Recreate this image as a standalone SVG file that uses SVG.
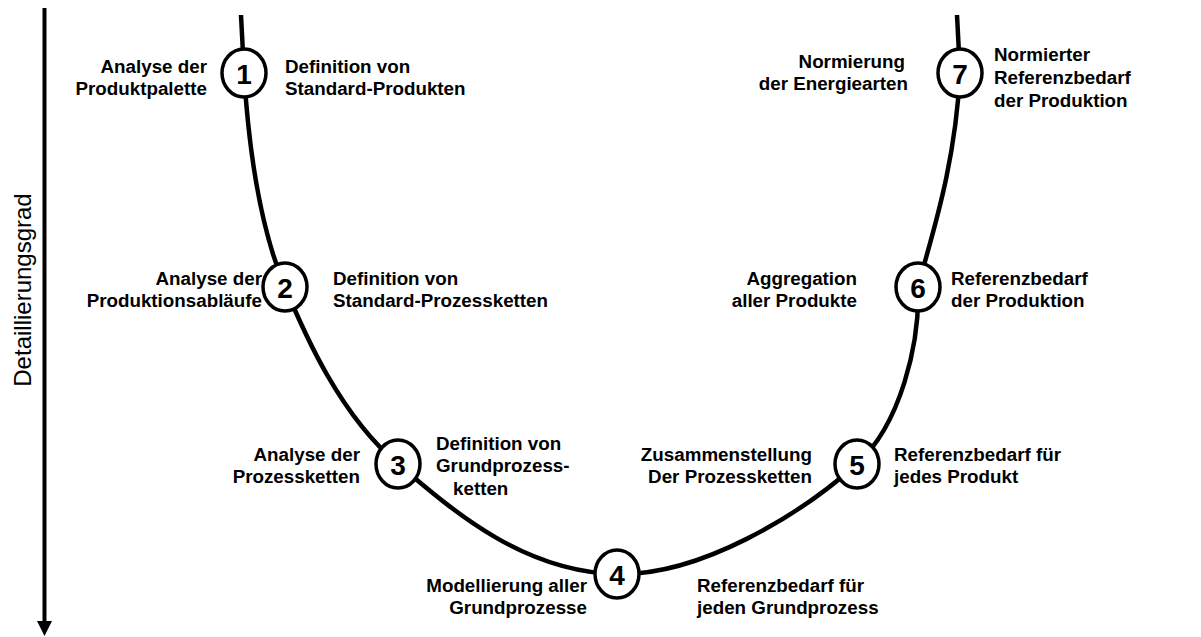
<svg xmlns="http://www.w3.org/2000/svg" width="1201" height="637" viewBox="0 0 1201 637">
  <style>
    .lbl { font-family: "Liberation Sans", Arial, sans-serif; font-weight: bold; font-size: 18.8px; fill: #000; }
    .r { text-anchor: end; }
    .num { font-family: "Liberation Sans", Arial, sans-serif; font-weight: bold; font-size: 28px; text-anchor: middle; dominant-baseline: central; fill: #000; }
    .node ellipse { fill: #fff; stroke: #000; stroke-width: 3.5; }
    .curve { fill: none; stroke: #000; stroke-width: 4.5; }
    .axis-label { font-family: "Liberation Sans", Arial, sans-serif; font-size: 24px; fill: #000; }
  </style>
  <rect width="1201" height="637" fill="#fff"/>

  <!-- vertical axis: level of detail -->
  <g id="axis">
    <line x1="44.5" y1="8" x2="44.5" y2="622" stroke="#000" stroke-width="4"/>
    <polygon points="37,621 52,621 44.5,636" fill="#000"/>
    <text class="axis-label" transform="translate(31,290) rotate(-90)" text-anchor="middle">Detaillierungsgrad</text>
  </g>

  <!-- U-shaped connector through all steps -->
  <g id="connectors">
    <path class="curve" d="M241,15 L244,73 C250,170 265,240 285,287 C305,335 340,415 398,464 C448,506 520,572 617,574 C700,576 800,515 857,464 C900,425 920,345 918,287 C930,240 955,170 960,73 L957,15"/>
  </g>

  <g id="step1" class="node">
    <ellipse cx="244" cy="73" rx="22" ry="24"/>
    <text class="num" x="244" y="74">1</text>
    <text class="lbl r" x="207" y="73">Analyse der</text>
    <text class="lbl r" x="207" y="95">Produktpalette</text>
    <text class="lbl" x="285" y="73">Definition von</text>
    <text class="lbl" x="285" y="95">Standard-Produkten</text>
  </g>

  <g id="step2" class="node">
    <ellipse cx="285" cy="287" rx="22" ry="24"/>
    <text class="num" x="285" y="288">2</text>
    <text class="lbl r" x="262" y="285">Analyse der</text>
    <text class="lbl r" x="262" y="307">Produktionsabläufe</text>
    <text class="lbl" x="333" y="285">Definition von</text>
    <text class="lbl" x="333" y="307">Standard-Prozessketten</text>
  </g>

  <g id="step3" class="node">
    <ellipse cx="398" cy="464" rx="22" ry="24"/>
    <text class="num" x="398" y="465">3</text>
    <text class="lbl r" x="360" y="461">Analyse der</text>
    <text class="lbl r" x="360" y="483">Prozessketten</text>
    <text class="lbl" x="436" y="450">Definition von</text>
    <text class="lbl" x="436" y="472">Grundprozess-</text>
    <text class="lbl" x="453" y="495">ketten</text>
  </g>

  <g id="step4" class="node">
    <ellipse cx="617" cy="574" rx="22" ry="24"/>
    <text class="num" x="617" y="575">4</text>
    <text class="lbl r" x="587" y="592">Modellierung aller</text>
    <text class="lbl r" x="587" y="614">Grundprozesse</text>
    <text class="lbl" x="697" y="592">Referenzbedarf für</text>
    <text class="lbl" x="697" y="614">jeden Grundprozess</text>
  </g>

  <g id="step5" class="node">
    <ellipse cx="857" cy="464" rx="22" ry="24"/>
    <text class="num" x="857" y="465">5</text>
    <text class="lbl r" x="812" y="461">Zusammenstellung</text>
    <text class="lbl r" x="812" y="483">Der Prozessketten</text>
    <text class="lbl" x="894" y="461">Referenzbedarf für</text>
    <text class="lbl" x="894" y="483">jedes Produkt</text>
  </g>

  <g id="step6" class="node">
    <ellipse cx="918" cy="287" rx="22" ry="24"/>
    <text class="num" x="918" y="288">6</text>
    <text class="lbl r" x="857" y="285">Aggregation</text>
    <text class="lbl r" x="857" y="307">aller Produkte</text>
    <text class="lbl" x="951" y="285">Referenzbedarf</text>
    <text class="lbl" x="951" y="307">der Produktion</text>
  </g>

  <g id="step7" class="node">
    <ellipse cx="960" cy="73" rx="22" ry="24"/>
    <text class="num" x="960" y="74">7</text>
    <text class="lbl r" x="905" y="68">Normierung</text>
    <text class="lbl r" x="908" y="90">der Energiearten</text>
    <text class="lbl" x="994" y="61">Normierter</text>
    <text class="lbl" x="994" y="84">Referenzbedarf</text>
    <text class="lbl" x="994" y="107">der Produktion</text>
  </g>
</svg>
